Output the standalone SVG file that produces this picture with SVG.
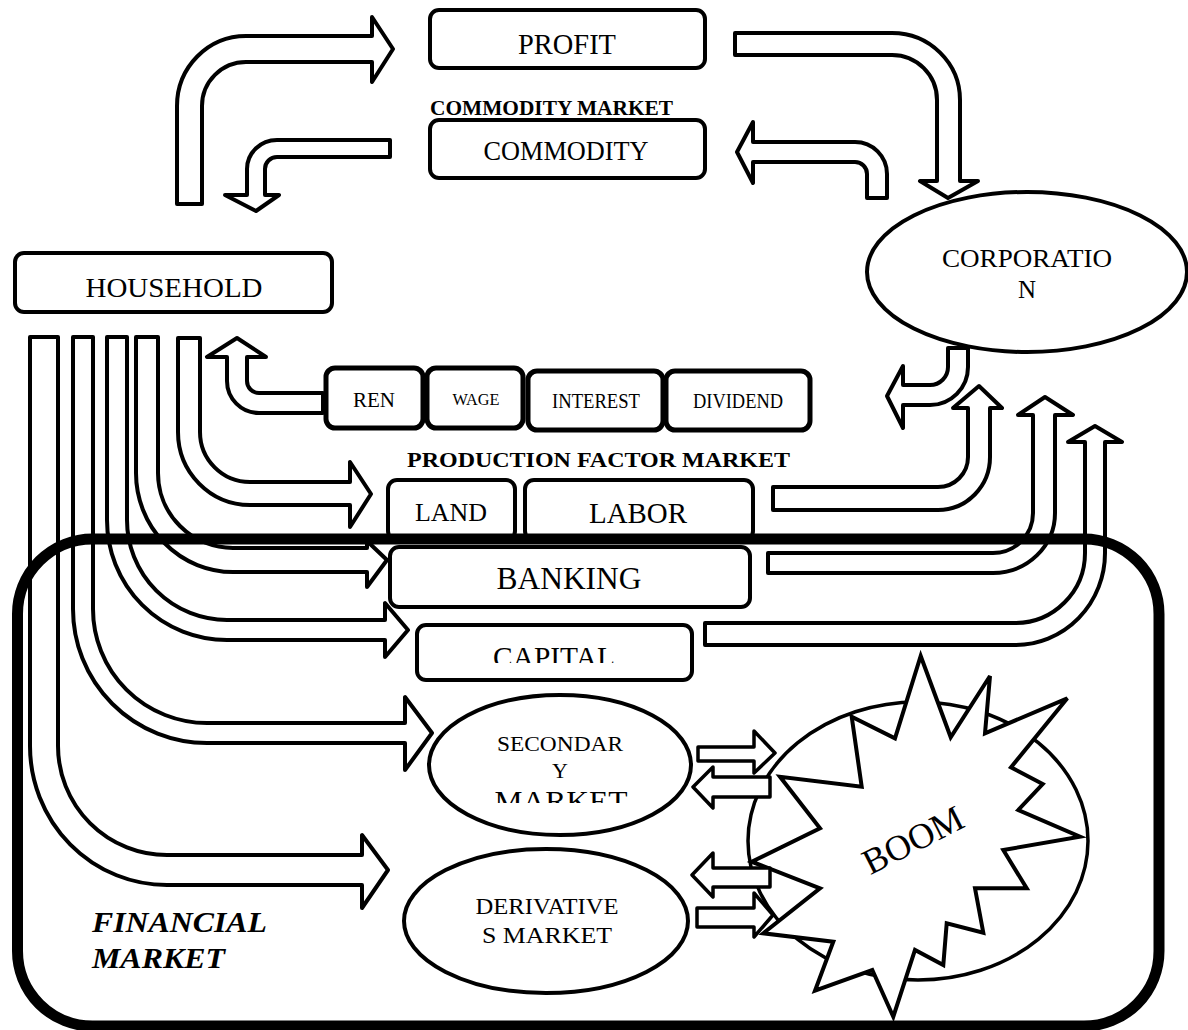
<svg xmlns="http://www.w3.org/2000/svg" width="1188" height="1030" viewBox="0 0 1188 1030">
  <style>
    .box { fill: #fff; stroke: #000; stroke-width: 4; }
    .box5 { fill: #fff; stroke: #000; stroke-width: 5; }
    .oval { fill: #fff; stroke: #000; stroke-width: 4; }
    .arrow { fill: #fff; stroke: #000; stroke-width: 4; stroke-linejoin: round; }
    .small { fill: #fff; stroke: #000; stroke-width: 3.5; stroke-linejoin: round; }
    .t { font-family: "Liberation Serif", "Times New Roman", serif; fill: #000; text-anchor: middle; }
    .tb { font-family: "Liberation Serif", "Times New Roman", serif; fill: #000; font-weight: bold; }
    .tbi { font-family: "Liberation Serif", "Times New Roman", serif; fill: #000; font-weight: bold; font-style: italic; }
  </style>
  <defs>
    <clipPath id="clipCapital"><rect x="400" y="600" width="320" height="63"/></clipPath>
    <clipPath id="clipSecMarket"><rect x="430" y="770" width="260" height="33"/></clipPath>
  </defs>
  <rect width="1188" height="1030" fill="#fff"/>

  <!-- nodes -->
  <g id="profit">
    <rect class="box" x="430" y="10" width="275" height="58" rx="9"/>
    <text class="t" x="567" y="54" font-size="29" textLength="98" lengthAdjust="spacingAndGlyphs">PROFIT</text>
  </g>
  <g id="commodity-market-label">
    <text class="tb" x="430" y="115" font-size="21" textLength="243" lengthAdjust="spacingAndGlyphs">COMMODITY MARKET</text>
  </g>
  <g id="commodity">
    <rect class="box" x="430" y="120" width="275" height="58" rx="9"/>
    <text class="t" x="566" y="160" font-size="28" textLength="165" lengthAdjust="spacingAndGlyphs">COMMODITY</text>
  </g>
  <g id="household">
    <rect class="box" x="15" y="253" width="317" height="59" rx="9"/>
    <text class="t" x="174" y="297" font-size="28" textLength="177" lengthAdjust="spacingAndGlyphs">HOUSEHOLD</text>
  </g>
  <g id="corporation">
    <ellipse class="oval" cx="1027" cy="272" rx="160" ry="80"/>
    <text class="t" x="1027" y="267" font-size="25" textLength="170" lengthAdjust="spacingAndGlyphs">CORPORATIO</text>
    <text class="t" x="1027" y="298" font-size="25">N</text>
  </g>
  <g id="rent">
    <rect class="box5" x="326" y="368" width="97" height="60" rx="9"/>
    <text class="t" x="374" y="407" font-size="21" textLength="42" lengthAdjust="spacingAndGlyphs">REN</text>
  </g>
  <g id="wage">
    <rect class="box5" x="427" y="368" width="96" height="60" rx="9"/>
    <text class="t" x="476" y="405" font-size="16" textLength="47" lengthAdjust="spacingAndGlyphs">WAGE</text>
  </g>
  <g id="interest">
    <rect class="box5" x="528" y="371" width="135" height="59" rx="9"/>
    <text class="t" x="596" y="408" font-size="21" textLength="88" lengthAdjust="spacingAndGlyphs">INTEREST</text>
  </g>
  <g id="dividend">
    <rect class="box5" x="666" y="371" width="144" height="59" rx="9"/>
    <text class="t" x="738" y="408" font-size="21" textLength="90" lengthAdjust="spacingAndGlyphs">DIVIDEND</text>
  </g>
  <g id="production-factor-market-label">
    <text class="tb" x="407" y="467" font-size="22" textLength="383" lengthAdjust="spacingAndGlyphs">PRODUCTION FACTOR MARKET</text>
  </g>
  <g id="land">
    <rect class="box" x="388" y="480" width="127" height="60" rx="9"/>
    <text class="t" x="451" y="521" font-size="26" textLength="72" lengthAdjust="spacingAndGlyphs">LAND</text>
  </g>
  <g id="labor">
    <rect class="box" x="525" y="480" width="228" height="60" rx="9"/>
    <text class="t" x="638" y="523" font-size="29" textLength="98" lengthAdjust="spacingAndGlyphs">LABOR</text>
  </g>
  <g id="banking">
    <rect class="box" x="390" y="547" width="360" height="60" rx="9"/>
    <text class="t" x="569" y="589" font-size="31" textLength="145" lengthAdjust="spacingAndGlyphs">BANKING</text>
  </g>
  <g id="capital">
    <rect class="box" x="417" y="625" width="275" height="55" rx="9"/>
    <text class="t" x="554" y="667" font-size="30" textLength="122" lengthAdjust="spacingAndGlyphs" clip-path="url(#clipCapital)">CAPITAL</text>
  </g>
  <g id="secondary-market">
    <ellipse class="oval" cx="560" cy="765" rx="131" ry="70"/>
    <text class="t" x="560" y="751" font-size="22" textLength="126" lengthAdjust="spacingAndGlyphs">SECONDAR</text>
    <text class="t" x="560" y="778" font-size="22">Y</text>
    <text class="t" x="561" y="811" font-size="29" textLength="133" lengthAdjust="spacingAndGlyphs" clip-path="url(#clipSecMarket)">MARKET</text>
  </g>
  <g id="derivatives-market">
    <ellipse class="oval" cx="546" cy="921" rx="142" ry="72"/>
    <text class="t" x="547" y="914" font-size="23" textLength="143" lengthAdjust="spacingAndGlyphs">DERIVATIVE</text>
    <text class="t" x="547" y="943" font-size="23" textLength="130" lengthAdjust="spacingAndGlyphs">S MARKET</text>
  </g>
  <g id="boom">
    <ellipse fill="#fff" stroke="#000" stroke-width="3.5" cx="918" cy="841" rx="170" ry="139"/>
    <polygon fill="#fff" stroke="#000" stroke-width="4" stroke-linejoin="miter" points="920.7,656 950.7,737.3 990,676 985,733.3 1067.3,698.3 1011,767.3 1042.7,784 1018.3,810 1080,836.7 1003.3,850 1026.7,888.3 975,888.3 983.3,932.7 946.7,923.3 943.3,965 915,950 893.3,1016.7 872.3,970 815,990.7 833.3,941.7 763.3,933.3 820,888.3 751.7,861.7 820,828.3 780,776.7 861.7,786.7 851.7,716.7 895,738.3"/>
    <text class="t" x="913" y="852" font-size="36" transform="rotate(-27 913 840)">BOOM</text>
  </g>

  <!-- connectors: hollow block arrows -->
  <g id="connectors">
    <path class="arrow" d="M177,204 L177,106 A69,70 0 0 1 246,36 L372,36 L372,17 L393,49 L372,82 L372,62 L246,62 A44,44 0 0 0 202,106 L202,204 Z"/>
    <path class="arrow" d="M390,140 L277,140 A30,29 0 0 0 247,169 L247,195 L225,195 L256,211 L279,195 L265,195 L265,169 A12,12 0 0 1 277,157 L390,157 Z"/>
    <path class="arrow" d="M735,33 L892,33 A68,67 0 0 1 960,100 L960,181 L978,181 L948,198 L920,181 L937,181 L937,100 A45,45 0 0 0 892,55 L735,55 Z"/>
    <path class="arrow" d="M887,198 L887,174 A32,32 0 0 0 855,142 L753,142 L753,122 L737,152 L753,183 L753,162 L855,162 A12,12 0 0 1 867,174 L867,198 Z"/>
    <path class="arrow" d="M948,348 L948,367 A18,18 0 0 1 930,385 L903,385 L903,366 L887,396 L903,428 L903,405 L930,405 A38,38 0 0 0 968,367 L968,348 Z"/>
    <path class="arrow" d="M323,393 L259,393 A12,12 0 0 1 247,381 L247,357 L266,357 L237,338 L207,357 L227,357 L227,381 A32,32 0 0 0 259,413 L323,413 Z"/>
    <path class="arrow" d="M178,338 L178,432 A72,73 0 0 0 250,505 L350,505 L350,527 L371,494 L350,462 L350,482 L250,482 A50,50 0 0 1 200,432 L200,338 Z"/>
    <path class="arrow" d="M136,337 L136,473 A97,99 0 0 0 233,572 L367,572 L367,587 L387,560 L367,541 L367,548 L233,548 A75,75 0 0 1 158,473 L158,337 Z"/>
    <path class="arrow" d="M107,337 L107,520 A120,120 0 0 0 227,640 L385,640 L385,657 L408,630 L385,603 L385,620 L227,620 A100,100 0 0 1 127,520 L127,337 Z"/>
    <path class="arrow" d="M73,337 L73,609 A134,134 0 0 0 207,743 L405,743 L405,770 L432,733 L405,697 L405,723 L207,723 A114,114 0 0 1 93,609 L93,337 Z"/>
    <path class="arrow" d="M30,337 L30,746 A137,139 0 0 0 167,885 L362,885 L362,908 L388,870 L362,835 L362,855 L167,855 A109,109 0 0 1 58,746 L58,337 Z"/>
    <path class="arrow" d="M773,487 L938,487 A30,30 0 0 0 968,457 L968,408 L953,408 L979,386 L1002,408 L990,408 L990,457 A52,53 0 0 1 938,510 L773,510 Z"/>
    <path class="arrow" d="M768,553 L993,553 A40,40 0 0 0 1033,513 L1033,415 L1018,415 L1045,397 L1073,415 L1055,415 L1055,513 A62,60 0 0 1 993,573 L768,573 Z"/>
    <path class="arrow" d="M705,623 L1015,623 A70,70 0 0 0 1085,553 L1085,442 L1068,442 L1095,426 L1122,442 L1105,442 L1105,553 A90,92 0 0 1 1015,645 L705,645 Z"/>
    <path class="small" d="M698,747 L754,747 L754,731 L775,753 L754,773 L754,761 L698,761 Z"/>
    <path class="small" d="M770,777 L713,777 L713,767 L693,787 L713,808 L713,797 L770,797 Z"/>
    <path class="small" d="M770,868 L713,868 L713,853 L692,875 L713,897 L713,887 L770,887 Z"/>
    <path class="small" d="M697,908 L754,908 L754,893 L773,915 L754,937 L754,927 L697,927 Z"/>
  </g>

  <!-- financial market frame and its label -->
  <g id="financial-market">
    <rect x="17.5" y="539" width="1141.5" height="487" rx="75" ry="75" fill="none" stroke="#000" stroke-width="11"/>
    <text class="tbi" x="92" y="932" font-size="29" textLength="175" lengthAdjust="spacingAndGlyphs">FINANCIAL</text>
    <text class="tbi" x="92" y="968" font-size="29" textLength="133" lengthAdjust="spacingAndGlyphs">MARKET</text>
  </g>
</svg>
